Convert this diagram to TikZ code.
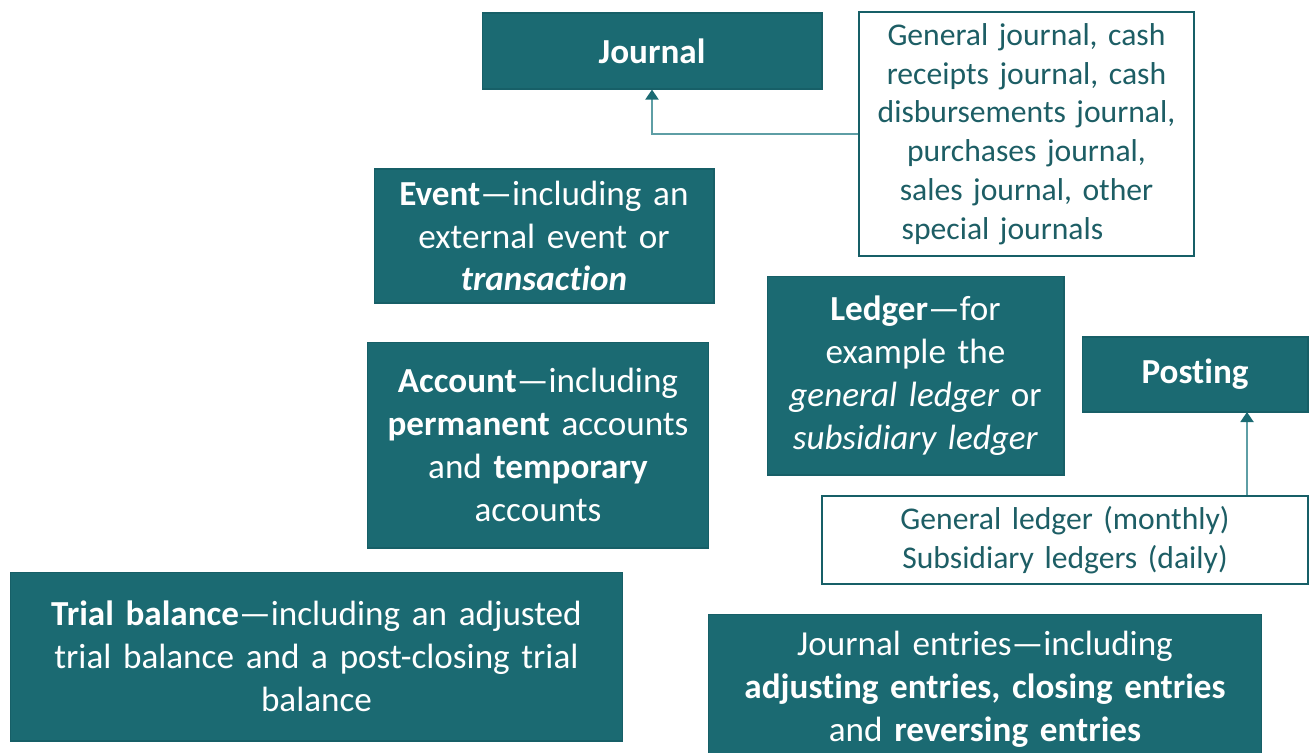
\documentclass[tikz,border=0pt]{standalone}
\usepackage{fontspec}
\setmainfont[Ligatures={TeX,NoCommon}]{Carlito}
\usetikzlibrary{arrows.meta}

\definecolor{tealFill}{HTML}{1B6A72}
\definecolor{tealEdge}{HTML}{175F67}
\definecolor{tealText}{HTML}{1D5E65}
\definecolor{tealLine}{HTML}{5E9EA5}

\begin{document}
\begin{tikzpicture}[x=0.02cm,y=-0.02cm,%%
  darkBox/.style={rectangle,fill=tealFill,draw=tealEdge,line width=0.6pt,
    text=white,align=center,inner sep=0pt,font=\fontsize{20}{24.4}\selectfont},
  lightBox/.style={rectangle,fill=white,draw=tealEdge,line width=1pt,
    text=tealText,align=center,inner sep=0pt,font=\fontsize{18}{22.1}\selectfont},
  linkArrow/.style={draw=tealLine,line width=1.1pt,
    -{Triangle[width=0.26cm,length=0.2cm,color=tealFill]}}
]
%%
\useasboundingbox (0,0) rectangle (1309,752);
%%
%% Top row: journal and its kinds.
\node[darkBox,minimum width=6.8cm,minimum height=1.52cm] (journal) at (652,51)
  {\bfseries Journal};
\node[lightBox,minimum width=6.7cm,minimum height=4.88cm,text width=6.3cm]
  (journalTypes) at (1026.5,134)
  {\rule{0pt}{0.3cm}General journal, cash\\ receipts journal, cash\\
   disbursements journal,\\ purchases journal,\\ sales journal, other\\
   special journals\hspace*{0.96cm}};
%%
%% Middle column.
\node[darkBox,minimum width=6.8cm,minimum height=2.68cm,text width=6.4cm]
  (event) at (544,236)
  {\textbf{Event}—including an\\ external event or\\ \textbf{\textit{transaction}}};
\node[darkBox,minimum width=6.84cm,minimum height=4.12cm,text width=6.5cm]
  (account) at (538,445)
  {\textbf{Account}—including\\ \textbf{permanent} accounts\\
   and \textbf{temporary}\\ accounts};
%%
%% Ledger and posting.
\node[darkBox,minimum width=5.94cm,minimum height=3.98cm,text width=5.6cm]
  (ledger) at (915.5,375.5)
  {\textbf{Ledger}—for\\ example the\\ \textit{general ledger} or\\
   \textit{subsidiary ledger}};
\node[darkBox,minimum width=4.52cm,minimum height=1.5cm] (posting) at (1195,374.5)
  {\bfseries Posting};
\node[lightBox,minimum width=9.72cm,minimum height=1.76cm,text width=9.2cm]
  (ledgerTypes) at (1065,540)
  {General ledger (monthly)\\ Subsidiary ledgers (daily)};
%%
%% Bottom row.
\node[darkBox,minimum width=12.26cm,minimum height=3.38cm,text width=11.6cm]
  (trial) at (316.5,656.5)
  {\textbf{Trial balance}—including an adjusted\\
   trial balance and a post-closing trial\\ balance};
\node[darkBox,minimum width=11.08cm,minimum height=3.0cm,text width=10.6cm]
  (entries) at (985,689)
  {Journal entries—including\\
   \textbf{adjusting entries, closing entries}\\ and \textbf{reversing entries}};
%%
%% Links.
\coordinate (postTip) at (1247,412);
\path[linkArrow] (journalTypes.west) -| (journal.south);
\path[linkArrow] (ledgerTypes.north -| postTip) -- (postTip);
\end{tikzpicture}
\end{document}
